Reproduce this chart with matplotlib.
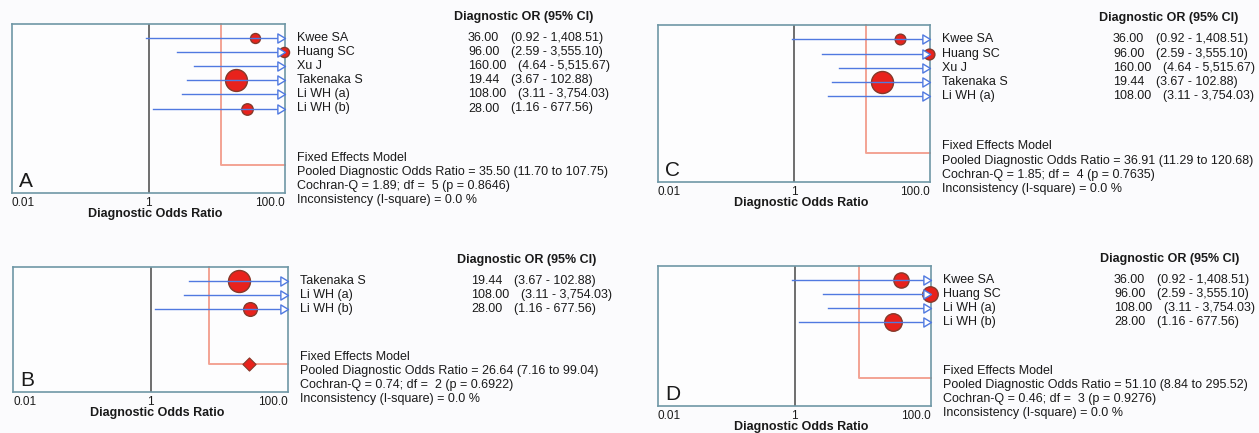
import numpy as np
import matplotlib
matplotlib.use("Agg")
import matplotlib.pyplot as plt
from matplotlib.path import Path
from matplotlib.transforms import blended_transform_factory

plt.rcParams['font.family'] = ['Liberation Sans', 'DejaVu Sans']

W, H = 1259, 433

# individual studies
studies = ["Kwee SA", "Huang SC", "Xu J", "Takenaka S", "Li WH (a)", "Li WH (b)"]
dor = [36.00, 96.00, 160.00, 19.44, 108.00, 28.00]
ci_low = [0.92, 2.59, 4.64, 3.67, 3.11, 1.16]
ci_high = [1408.51, 3555.10, 5515.67, 102.88, 3754.03, 677.56]

# which studies go into each sub-analysis
panel_labels = ["A", "B", "C", "D"]
panel_members = [[0, 1, 2, 3, 4, 5], [3, 4, 5], [0, 1, 2, 3, 4], [0, 1, 4, 5]]

# fixed effects results per sub-analysis
pooled_dor = [35.50, 26.64, 36.91, 51.10]
pooled_low = [11.70, 7.16, 11.29, 8.84]
pooled_high = [107.75, 99.04, 120.68, 295.52]
cochran_q = [1.89, 0.74, 1.85, 0.46]
q_df = [5, 2, 4, 3]
q_p = [0.8646, 0.6922, 0.7635, 0.9276]
i_square = [0.0, 0.0, 0.0, 0.0]

tick_vals = [0.01, 1, 100]
tick_text = ["0.01", "1", "100.0"]

# plot frames in pixels: left, top, right, bottom
boxes = [(12, 24, 285, 193), (13, 267, 288, 392), (658, 25, 930, 182), (658, 266, 931, 406)]

BLUE = '#5079e0'
RED = '#e8221c'
EDGE = '#86392a'
SALMON = '#f3a394'
FRAME = '#6f97a6'
INK = '#1a1a1a'

# open arrow head with its tip at the data point
tip_right = Path([(0, 0), (-1, 0.6), (-1, -0.6), (0, 0)],
                 [Path.MOVETO, Path.LINETO, Path.LINETO, Path.CLOSEPOLY])


def weight(lo, hi):
    se = (np.log(hi) - np.log(lo)) / (2 * 1.96)
    return 1 / se ** 2


fig = plt.figure(figsize=(W / 100, H / 100), dpi=100, facecolor='#fbfbfd')

for k, (x0, y0, x1, y1) in enumerate(boxes):
    ax = fig.add_axes([x0 / W, 1 - y1 / H, (x1 - x0) / W, (y1 - y0) / H])
    ax.set_facecolor('#fdfdfe')
    idx = panel_members[k]
    n = len(idx)
    pooled_row = n + 3

    ax.set_xscale('log')
    ax.set_xlim(0.01, 100)
    ax.set_ylim(n + 5, -1)
    ax.set_yticks([])
    ax.minorticks_off()
    ax.set_xticks(tick_vals)
    ax.set_xticklabels(tick_text, fontsize=8.5, color=INK)
    lbls = ax.get_xticklabels()
    lbls[0].set_ha('left')
    lbls[-1].set_ha('right')
    ax.tick_params(axis='x', length=0, pad=3)
    for sp in ax.spines.values():
        sp.set_color(FRAME)
        sp.set_linewidth(1.2)

    ax.axvline(1, color='#555555', lw=1.2, zorder=1)

    # pooled estimate outline
    ax.plot([pooled_low[k], pooled_low[k], min(pooled_high[k], 100)],
            [-1, pooled_row, pooled_row], color=SALMON, lw=1.4, zorder=2, clip_on=False)
    if pooled_high[k] <= 100:
        ax.scatter([pooled_dor[k]], [pooled_row], marker='D', s=45, color=RED,
                   edgecolor=EDGE, linewidth=0.8, zorder=4)

    w = np.array([weight(ci_low[i], ci_high[i]) for i in idx])
    pct = 100 * w / w.sum()

    for row, i in enumerate(idx):
        lo = max(ci_low[i], 0.01)
        hi = min(ci_high[i], 100)
        if dor[i] <= 100:
            d_px = min(3.2 * np.sqrt(pct[row]), 22)
            ax.scatter([dor[i]], [row], s=(d_px * 0.72) ** 2, color=RED,
                       edgecolor=EDGE, linewidth=1.0, zorder=3, clip_on=False)
        ax.plot([lo, hi], [row, row], color=BLUE, lw=1.0, zorder=4)
        if ci_high[i] > 100:
            ax.plot([100], [row], marker=tip_right, ms=11, mfc='white', mec=BLUE,
                    mew=1.0, zorder=5, clip_on=False)

    ax.annotate(panel_labels[k], xy=(0, 0), xycoords='axes fraction', xytext=(7, 6),
                textcoords='offset pixels', fontsize=15, va='baseline', color=INK)
    ax.annotate("Diagnostic Odds Ratio", xy=(0.5, 0), xycoords='axes fraction',
                xytext=(7, -21), textcoords='offset pixels', ha='center', va='center',
                fontsize=9, fontweight='bold', color=INK)

    # study table to the right of the plot
    trans = blended_transform_factory(fig.transFigure, ax.transData)
    fx_name = (x1 + 12) / W
    fx_or = (x1 + 183) / W
    ax.text((x1 + 169) / W, -1.5, "Diagnostic OR (95% CI)", transform=trans,
            fontsize=9, fontweight='bold', va='center', color=INK)
    for row, i in enumerate(idx):
        ax.text(fx_name, row, studies[i], transform=trans, fontsize=9, va='center', color=INK)
        t = ax.text(fx_or, row, f"{dor[i]:.2f}", transform=trans, fontsize=9,
                    va='center', color=INK)
        ax.annotate(f"({ci_low[i]:,.2f} - {ci_high[i]:,.2f})", xy=(1, 0.5), xycoords=t,
                    xytext=(12, 0), textcoords='offset pixels', fontsize=9,
                    va='center', color=INK)

    summary = [
        "Fixed Effects Model",
        f"Pooled Diagnostic Odds Ratio = {pooled_dor[k]:.2f} ({pooled_low[k]:.2f} to {pooled_high[k]:.2f})",
        f"Cochran-Q = {cochran_q[k]:.2f}; df =  {q_df[k]} (p = {q_p[k]:.4f})",
        f"Inconsistency (I-square) = {i_square[k]:.1f} %",
    ]
    for j, line in enumerate(summary):
        ax.text(fx_name, pooled_row - 0.5 + j, line, transform=trans, fontsize=9,
                va='center', color=INK)

fig.savefig("out.png", dpi=100, facecolor=fig.get_facecolor())
